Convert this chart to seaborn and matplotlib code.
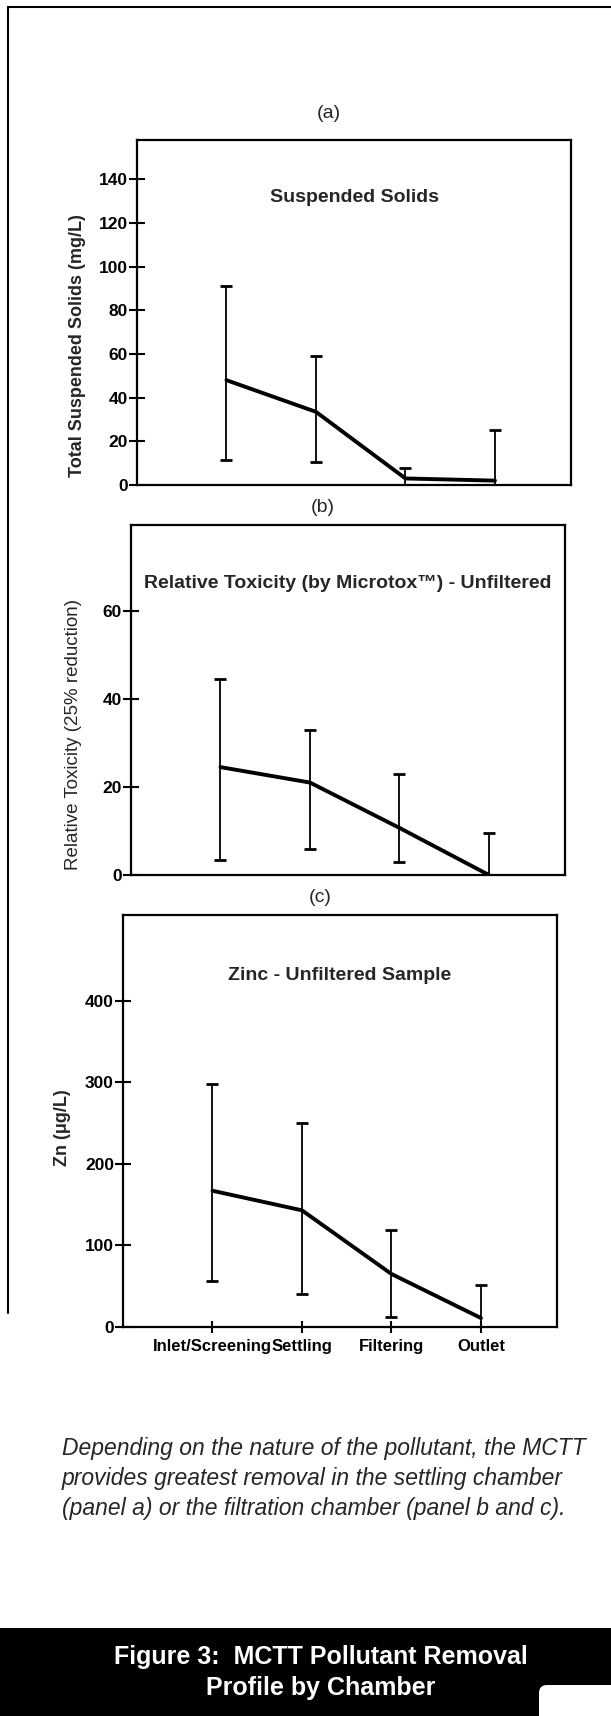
import matplotlib
matplotlib.use("Agg")
import matplotlib.pyplot as plt
from matplotlib import font_manager
from matplotlib.lines import Line2D
from matplotlib.patches import Rectangle, FancyBboxPatch
import pandas as pd
import seaborn as sns

# chamber stages along the x axis
stages = ["Inlet/Screening", "Settling", "Filtering", "Outlet"]

# (a) suspended solids, mg/L
tss_mean = [48, 33.5, 3, 2]
tss_high = [91, 59, 8, 25]
tss_low = [11.5, 10.5, 0, 0]

# (b) relative toxicity, 25% reduction
tox_mean = [24.5, 21, 10.7, 0]
tox_high = [44.5, 33, 23, 9.5]
tox_low = [3.4, 6, 3, 0]

# (c) zinc, ug/L
zn_mean = [167, 143, 65, 11]
zn_high = [298, 250, 119, 51]
zn_low = [56, 40, 12, 0]

W, H = 611, 1716

sns.set_style("white")
names = {f.name for f in font_manager.fontManager.ttflist}
narrow = "Liberation Sans Narrow" if "Liberation Sans Narrow" in names else "Liberation Sans"
plt.rcParams["font.family"] = ["Liberation Sans", "DejaVu Sans"]


def px(x, y):
    return x / W, 1 - y / H


def axes_box(left, top, right, bottom):
    return [left / W, 1 - bottom / H, (right - left) / W, (bottom - top) / H]


def panel(ax, mean, low, high, ylim, yticks, title, title_y):
    df = pd.DataFrame({"stage": stages, "value": mean})
    sns.lineplot(data=df, x="stage", y="value", sort=False, color="black",
                 linewidth=2.8, ax=ax)
    lo = [m - l for m, l in zip(mean, low)]
    hi = [h - m for m, h in zip(mean, high)]
    ax.errorbar(df["stage"], df["value"], yerr=[lo, hi], fmt="none",
                ecolor="black", elinewidth=1.3, capsize=4.5, capthick=2)
    ax.set_xlim(-1.0, 3.85)
    ax.set_ylim(*ylim)
    ax.set_yticks(yticks)
    ax.set_yticklabels([str(t) for t in yticks], family=[narrow, "DejaVu Sans"],
                       fontsize=12.5, fontweight="bold")
    ax.tick_params(axis="y", left=True, direction="inout", length=11,
                   width=1.5, pad=1, colors="black")
    ax.set_xlabel("")
    for s in ax.spines.values():
        s.set_visible(True)
        s.set_color("black")
        s.set_linewidth(1.6)
    ax.text(0.5, title_y, title, transform=ax.transAxes, ha="center",
            va="center", fontsize=14, fontweight="bold",
            family=[narrow, "DejaVu Sans"])


fig = plt.figure(figsize=(W / 100, H / 100), dpi=100)
fig.patch.set_facecolor("white")

ax_a = fig.add_axes(axes_box(137, 140, 571, 485))
panel(ax_a, tss_mean, tss_low, tss_high, (0, 158), list(range(0, 141, 20)),
      "Suspended Solids", 0.832)
ax_a.set_xticks([])
ax_a.set_ylabel("Total Suspended Solids (mg/L)", fontsize=13, fontweight="bold")
ax_a.yaxis.set_label_coords(-0.117, 0.405)

ax_b = fig.add_axes(axes_box(131, 525, 565, 875))
panel(ax_b, tox_mean, tox_low, tox_high, (0, 79.5), [0, 20, 40, 60],
      "Relative Toxicity (by Microtox\u2122) - Unfiltered", 0.834)
ax_b.set_xticks([])
ax_b.set_ylabel("Relative Toxicity (25% reduction)", fontsize=13.5)
ax_b.yaxis.set_label_coords(-0.112, 0.4)

ax_c = fig.add_axes(axes_box(123, 915, 557, 1327))
panel(ax_c, zn_mean, zn_low, zn_high, (0, 505), [0, 100, 200, 300, 400],
      "Zinc - Unfiltered Sample", 0.852)
ax_c.set_ylabel("Zn (\u03bcg/L)", fontsize=13, fontweight="bold")
ax_c.yaxis.set_label_coords(-0.12, 0.484)
ax_c.set_xticks(range(len(stages)))
ax_c.set_xticklabels(stages, fontsize=12, fontweight="bold",
                     family=[narrow, "DejaVu Sans"])
ax_c.tick_params(axis="x", bottom=True, direction="inout", length=9,
                 width=1.5, pad=4, colors="black")

# panel letters
for label, x, y in [("(a)", 329, 113), ("(b)", 323, 507), ("(c)", 320, 898)]:
    fig.text(*px(x, y), label, ha="center", va="center", fontsize=14)

# caption
caption = ["Depending on the nature of the pollutant, the MCTT",
           "provides greatest removal in the settling chamber",
           "(panel a) or the filtration chamber (panel b and c)."]
for i, line in enumerate(caption):
    fig.text(*px(62, 1449 + 30 * i), line, ha="left", va="center",
             fontsize=16.5, style="italic")

# page border lines
fig.add_artist(Line2D([8 / W, 1], [1 - 7 / H, 1 - 7 / H], color="black", lw=1.5))
fig.add_artist(Line2D([8 / W, 8 / W], [1 - 7 / H, 1 - 1313 / H], color="black", lw=1.5))

# footer band
foot = fig.add_axes([0, 0, 1, 88 / H])
foot.set_xlim(0, W)
foot.set_ylim(0, 88)
foot.axis("off")
foot.add_patch(Rectangle((0, 0), W, 88, color="black"))
foot.add_patch(FancyBboxPatch((539, -10), 100, 41,
                              boxstyle="round,pad=0,rounding_size=8",
                              facecolor="white", edgecolor="none"))
foot.text(321, 59, "Figure 3:  MCTT Pollutant Removal", color="white",
          ha="center", va="center", fontsize=18, fontweight="bold")
foot.text(321, 28, "Profile by Chamber", color="white",
          ha="center", va="center", fontsize=18, fontweight="bold")

fig.savefig("out.png", dpi=100, facecolor="white")
